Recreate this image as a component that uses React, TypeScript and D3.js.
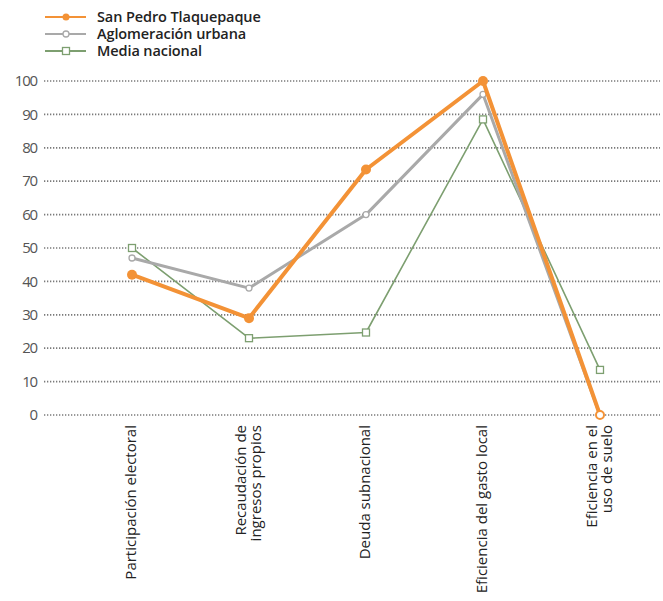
import React from "react";
import * as d3 from "d3";

const categories = [
  ["Participación electoral"],
  ["Recaudación de", "ingresos propios"],
  ["Deuda subnacional"],
  ["Eficiencia del gasto local"],
  ["Eficiencia en el", "uso de suelo"],
];
const sanPedro = [42, 29, 73.5, 100, 0];
const aglomeracion = [47, 38, 60, 96, 0];
const mediaNacional = [50, 23, 24.7, 88.5, 13.5];
const yTicks = [0, 10, 20, 30, 40, 50, 60, 70, 80, 90, 100];
const seriesNames = ["San Pedro Tlaquepaque", "Aglomeración urbana", "Media nacional"];

const W = 663, H = 601;
const ORANGE = "#f39236";
const GRAY = "#a9a9a9";
const GREEN = "#7d9f70";

export default function App() {
  const x = d3.scalePoint<number>().domain(d3.range(categories.length)).range([132, 600]);
  const y = d3.scaleLinear().domain([0, 100]).range([415, 81]);
  const line = d3.line<number>().x((_, i) => x(i)!).y((d) => y(d));
  const font = "'Open Sans', 'Liberation Sans', sans-serif";
  const series = [
    { name: seriesNames[0], data: sanPedro, color: ORANGE, w: 4, marker: "dot" },
    { name: seriesNames[1], data: aglomeracion, color: GRAY, w: 3, marker: "circle" },
    { name: seriesNames[2], data: mediaNacional, color: GREEN, w: 1.6, marker: "square" },
  ];
  const drawOrder = [2, 1, 0];
  const marker = (s: any, cx: number, cy: number, key: string, legend = false, hollow = false) => {
    if (s.marker === "dot")
      return hollow
        ? <circle key={key} cx={cx} cy={cy} r={4} fill="#fff" stroke={s.color} strokeWidth={2} />
        : <circle key={key} cx={cx} cy={cy} r={legend ? 3.5 : 5} fill={s.color} />;
    if (s.marker === "circle") return <circle key={key} cx={cx} cy={cy} r={3} fill="#fff" stroke={s.color} strokeWidth={1.3} />;
    return <rect key={key} x={cx - 3.5} y={cy - 3.5} width={7} height={7} fill="#fff" stroke={s.color} strokeWidth={1.3} />;
  };
  return (
    <svg width={W} height={H} style={{ position: "absolute", left: 0, top: 0, background: "#fff" }}>
      {yTicks.map((t) => (
        <g key={t}>
          <line x1={44} x2={660} y1={y(t)} y2={y(t)} stroke="#7a7a7a" strokeWidth={1.7} strokeDasharray="1.3,1.7" />
          <text x={37} y={y(t)} dy="0.35em" textAnchor="end" fontFamily={font} fontSize={15} fill="#555" letterSpacing={-1.2}>{t}</text>
        </g>
      ))}
      {categories.map((c, i) => (
        <text key={i} transform={`translate(${x(i)! - (c.length - 1) * 7.5 + 4},425) rotate(-90)`} textAnchor="end" fontFamily={font} fontSize={15} fill="#222">
          {c.map((l, j) => (
            <tspan key={j} x={0} dy={j === 0 ? 0 : 15}>{l}</tspan>
          ))}
        </text>
      ))}
      {drawOrder.map((k) => {
        const s = series[k];
        return (
          <g key={s.name}>
            <path d={line(s.data)!} fill="none" stroke={s.color} strokeWidth={s.w} strokeLinejoin="round" />
            {s.data.map((v, i) => marker(s, x(i)!, y(v), `${k}-${i}`, false, v === 0))}
          </g>
        );
      })}
      {series.map((s, k) => {
        const ly = 17 + k * 17;
        return (
          <g key={"lg" + k}>
            <line x1={45} x2={86} y1={ly} y2={ly} stroke={s.color} strokeWidth={2} />
            {marker(s, 66, ly, "lm" + k, true)}
            <text x={97} y={ly} dy="0.35em" fontFamily={font} fontSize={14.5} fontWeight={600} fill="#222" letterSpacing={-0.1}>{s.name}</text>
          </g>
        );
      })}
    </svg>
  );
}
